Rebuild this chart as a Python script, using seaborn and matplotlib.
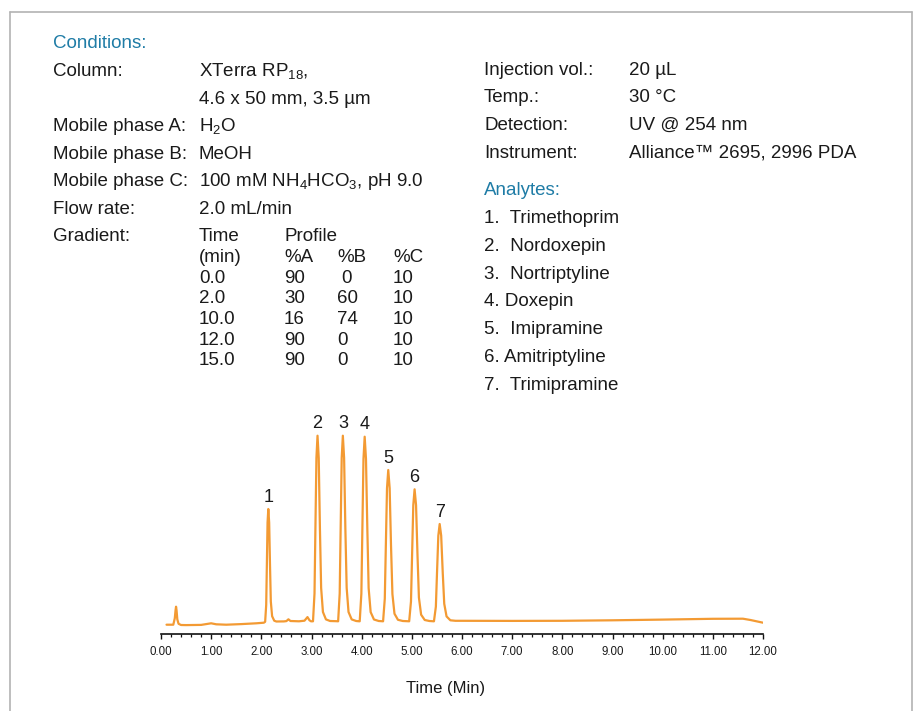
import numpy as np
import pandas as pd
import matplotlib
matplotlib.use("Agg")
import matplotlib.pyplot as plt
from matplotlib.lines import Line2D
from matplotlib.ticker import MultipleLocator, FixedLocator
import seaborn as sns

# ---------------- data ----------------
time_min = [
    0.11, 0.20, 0.245, 0.275, 0.29, 0.30, 0.31, 0.325, 0.35, 0.40,
    0.50, 0.80, 0.95, 1.00, 1.10, 1.30, 1.60, 1.90, 2.05,
    2.076, 2.097, 2.110, 2.124, 2.139, 2.156, 2.173, 2.189, 2.215, 2.257,
    2.30, 2.45, 2.50, 2.54, 2.58, 2.75, 2.86, 2.92, 2.96, 2.99,
    3.03, 3.06, 3.078, 3.098, 3.12, 3.144, 3.168, 3.192, 3.228, 3.288, 3.37, 3.50,
    3.531, 3.562, 3.581, 3.602, 3.625, 3.650, 3.675, 3.701, 3.738, 3.801, 3.89, 3.93,
    3.961, 3.994, 4.014, 4.036, 4.060, 4.086, 4.113, 4.139, 4.179, 4.245, 4.34, 4.40,
    4.427, 4.461, 4.482, 4.505, 4.530, 4.558, 4.585, 4.613, 4.654, 4.723, 4.82, 4.91,
    4.947, 4.983, 5.005, 5.029, 5.055, 5.084, 5.113, 5.141, 5.185, 5.257, 5.35, 5.41,
    5.441, 5.479, 5.502, 5.528, 5.555, 5.585, 5.616, 5.646, 5.692, 5.768, 5.87,
    6.00, 7.00, 8.00, 9.00, 10.00, 11.00, 11.60, 11.75, 12.00,
]
signal = [
    9.6, 9.6, 9.6, 16.0, 24.0, 27.6, 24.0, 15.0, 10.5, 9.3,
    9.2, 9.4, 10.6, 11.0, 10.0, 9.6, 10.2, 11.0, 11.6,
    12.5, 29.4, 68.9, 111.8, 125.3, 111.8, 68.9, 32.8, 18.1, 13.6,
    12.8, 12.9, 13.2, 15.0, 13.3, 13.0, 13.6, 17.2, 14.0, 13.0,
    13.0, 40.8, 105.8, 176.3, 198.6, 176.3, 105.8, 46.4, 22.3, 14.9, 13.3, 13.1,
    13.0, 40.8, 105.8, 176.3, 198.6, 176.3, 105.8, 46.4, 22.3, 14.9, 13.3, 13.1,
    13.0, 40.7, 105.3, 175.4, 197.6, 175.4, 105.3, 46.2, 22.2, 14.8, 13.3, 13.1,
    13.0, 35.7, 88.7, 146.1, 164.3, 146.1, 88.7, 40.2, 20.6, 14.5, 13.3, 13.1,
    13.0, 32.8, 79.0, 129.2, 145.0, 129.2, 79.0, 36.8, 19.6, 14.3, 13.3, 13.1,
    13.0, 27.6, 61.7, 98.6, 110.3, 98.6, 61.7, 30.5, 17.9, 14.0, 13.5,
    13.5, 13.4, 13.5, 14.0, 14.7, 15.5, 15.6, 14.3, 11.6,
]
assert len(time_min) == len(signal)

peak_ids = ["1", "2", "3", "4", "5", "6", "7"]
peak_times = [2.139, 3.12, 3.625, 4.06, 4.53, 5.055, 5.555]
peak_heights = [125.3, 198.6, 198.6, 197.6, 164.3, 145.0, 110.3]

x_ticks = [0, 1, 2, 3, 4, 5, 6, 7, 8, 9, 10, 11, 12]
x_tick_labels = ["0.00", "1.00", "2.00", "3.00", "4.00", "5.00", "6.00",
                 "7.00", "8.00", "9.00", "10.00", "11.00", "12.00"]

cond_labels = ["Column:", "", "Mobile phase A:", "Mobile phase B:",
               "Mobile phase C:", "Flow rate:", "Gradient:"]
cond_values = [r"XTerra RP$_{18}$,", "4.6 x 50 mm, 3.5 µm", r"H$_2$O", "MeOH",
               r"100 mM NH$_4$HCO$_3$, pH 9.0", "2.0 mL/min", "Time"]

grad_time = ["0.0", "2.0", "10.0", "12.0", "15.0"]
grad_A = ["90", "30", "16", "90", "90"]
grad_B = ["0", "60", "74", "0", "0"]
grad_C = ["10", "10", "10", "10", "10"]

inst_labels = ["Injection vol.:", "Temp.:", "Detection:", "Instrument:"]
inst_values = ["20 µL", "30 °C", "UV @ 254 nm", "Alliance™ 2695, 2996 PDA"]

analytes = ["1.  Trimethoprim", "2.  Nordoxepin", "3.  Nortriptyline",
            "4. Doxepin", "5.  Imipramine", "6. Amitriptyline", "7.  Trimipramine"]

# ---------------- style ----------------
sns.set_theme(style="white")
plt.rcParams["font.family"] = ["Liberation Sans", "DejaVu Sans"]
plt.rcParams["mathtext.default"] = "regular"

W, H = 914, 711
fig = plt.figure(figsize=(W / 100, H / 100), dpi=100)
fig.patch.set_facecolor("white")

def fx(px):
    return px / W

def fy(py):
    return 1 - py / H

TEAL = "#1f7ca6"
INK = "#1a1a1a"
ORANGE = "#f39a33"
FS = 13.5

# border
bc = "#b3b3b3"
fig.add_artist(Line2D([fx(9.5), fx(9.5)], [fy(12), 0], transform=fig.transFigure, color=bc, lw=1.2))
fig.add_artist(Line2D([fx(9.5), fx(911.5)], [fy(12), fy(12)], transform=fig.transFigure, color=bc, lw=1.2))
fig.add_artist(Line2D([fx(911.5), fx(911.5)], [fy(12), 0], transform=fig.transFigure, color=bc, lw=1.2))

# ---------------- text block ----------------
fig.text(fx(53), fy(48), "Conditions:", color=TEAL, fontsize=FS, va="baseline")
left_rows = [76, 104, 131, 159, 186, 214, 241]
for lab, val, yb in zip(cond_labels, cond_values, left_rows):
    if lab:
        fig.text(fx(53), fy(yb), lab, color=INK, fontsize=FS, va="baseline")
    fig.text(fx(199), fy(yb), val, color=INK, fontsize=FS, va="baseline")
fig.text(fx(284), fy(241), "Profile", color=INK, fontsize=FS, va="baseline")
fig.text(fx(199), fy(262), "(min)", color=INK, fontsize=FS, va="baseline")
fig.text(fx(284), fy(262), "%A", color=INK, fontsize=FS, va="baseline")
fig.text(fx(337), fy(262), "%B", color=INK, fontsize=FS, va="baseline")
fig.text(fx(393), fy(262), "%C", color=INK, fontsize=FS, va="baseline")
table_rows = [283, 303.5, 324, 344.5, 365]
for i, yb in enumerate(table_rows):
    fig.text(fx(199), fy(yb), grad_time[i], color=INK, fontsize=FS, va="baseline")
    fig.text(fx(284), fy(yb), grad_A[i], color=INK, fontsize=FS, va="baseline")
    bx = 341 if i == 0 else 337
    fig.text(fx(bx), fy(yb), grad_B[i], color=INK, fontsize=FS, va="baseline")
    fig.text(fx(393), fy(yb), grad_C[i], color=INK, fontsize=FS, va="baseline")

right_rows = [75, 102.5, 130, 157.5]
for lab, val, yb in zip(inst_labels, inst_values, right_rows):
    fig.text(fx(484), fy(yb), lab, color=INK, fontsize=FS, va="baseline")
    fig.text(fx(629), fy(yb), val, color=INK, fontsize=FS, va="baseline")
fig.text(fx(484), fy(195), "Analytes:", color=TEAL, fontsize=FS, va="baseline")
an_rows = [223, 250.8, 278.6, 306.4, 334.2, 362, 389.8]
for name, yb in zip(analytes, an_rows):
    fig.text(fx(484), fy(yb), name, color=INK, fontsize=FS, va="baseline")

# ---------------- chromatogram ----------------
ax = fig.add_axes([fx(161), 1 - 634.3 / H, 602 / W, 234 / H])
df = pd.DataFrame({"Time (Min)": time_min, "Signal": signal})
sns.lineplot(data=df, x="Time (Min)", y="Signal", ax=ax, color=ORANGE,
             lw=1.6, estimator=None, sort=False)
ax.lines[0].set_solid_joinstyle("round")
ax.set_xlim(0, 12)
ax.set_ylim(0, 234)
ax.set_facecolor("none")
for s in ["left", "top", "right"]:
    ax.spines[s].set_visible(False)
ax.spines["bottom"].set_color("#111111")
ax.spines["bottom"].set_linewidth(1.2)
ax.set_yticks([])
ax.xaxis.set_major_locator(FixedLocator(x_ticks))
ax.set_xticklabels(x_tick_labels)
ax.xaxis.set_minor_locator(MultipleLocator(0.2))
ax.tick_params(axis="x", which="major", bottom=True, direction="out", length=3.6,
               width=1.0, color="#111111", labelsize=8.3, labelcolor=INK, pad=4.8)
ax.tick_params(axis="x", which="minor", bottom=True, direction="out", length=2.0,
               width=0.9, color="#111111")
ax.set_xlabel("")
ax.set_ylabel("")

for pid, pt, ph in zip(peak_ids, peak_times, peak_heights):
    ax.annotate(pid, xy=(pt, ph), xytext=(0, 8.5), textcoords="offset points",
                ha="center", va="center", fontsize=13, color=INK)

fig.text(fx(446), fy(688), "Time (Min)", color=INK, fontsize=12, ha="center", va="center")

fig.savefig("out.png", dpi=100, facecolor="white")
